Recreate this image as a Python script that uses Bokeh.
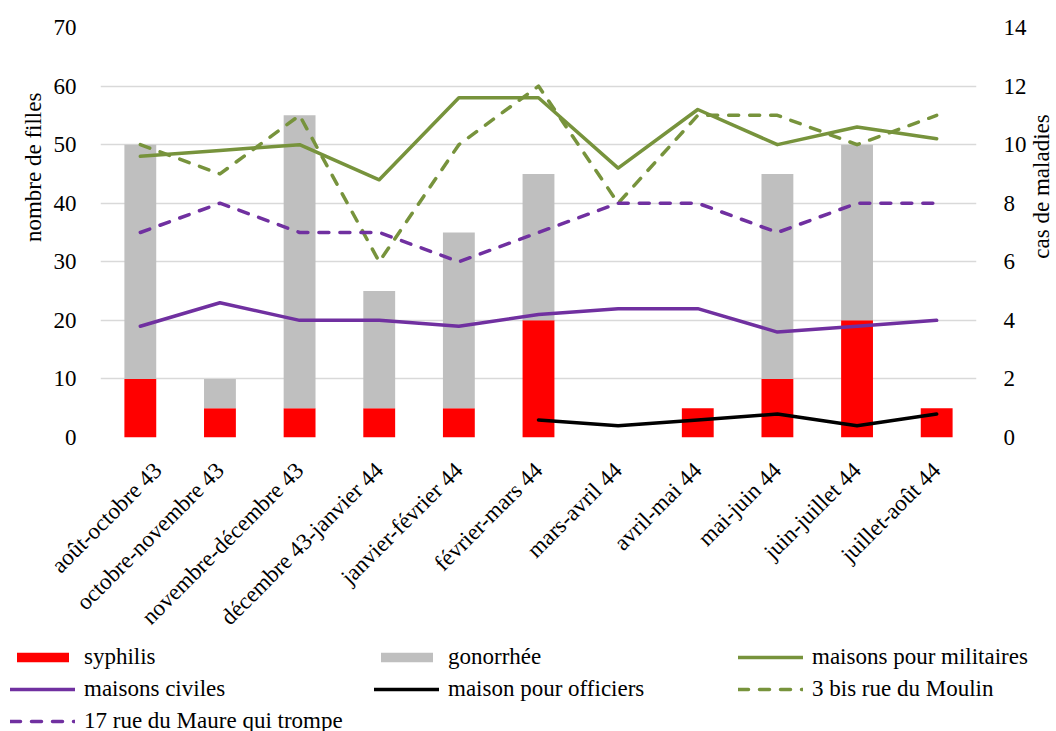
import math
from bokeh.plotting import figure
from bokeh.layouts import row, column
from bokeh.models import (ColumnDataSource, FactorRange, Range1d, LinearAxis, Legend,
                          LegendItem, SingleIntervalTicker, Label)
from bokeh.embed import file_html
from bokeh.resources import INLINE

NAN = float("nan")

categories = ["août-octobre 43", "octobre-novembre 43", "novembre-décembre 43",
              "décembre 43-janvier 44", "janvier-février 44", "février-mars 44",
              "mars-avril 44", "avril-mai 44", "mai-juin 44", "juin-juillet 44",
              "juillet-août 44"]

# cas de maladies (right axis)
syphilis = [2, 1, 1, 1, 1, 4, 0, 1, 2, 4, 1]
gonorrhee = [8, 1, 10, 4, 6, 5, 0, 0, 7, 6, 0]
rue_du_moulin = [10, 9, 11, 6, 10, 12, 8, 11, 11, 10, 11]
rue_du_maure = [7, 8, 7, 7, 6, 7, 8, 8, 7, 8, 8]

# nombre de filles (left axis)
maisons_militaires = [48, 49, 50, 44, 58, 58, 46, 56, 50, 53, 51]
maisons_civiles = [19, 23, 20, 20, 19, 21, 22, 22, 18, 19, 20]
maison_officiers = [NAN, NAN, NAN, NAN, NAN, 3, 2, 3, 4, 2, 4]

left_ticks = [0, 10, 20, 30, 40, 50, 60, 70]
right_ticks = [0, 2, 4, 6, 8, 10, 12, 14]

FONT = "Liberation Serif"
FS = "23px"
RED = "#FF0000"
GRAY = "#BFBFBF"
GREEN = "#77933C"
PURPLE = "#7030A0"
BLACK = "#000000"
GRID = "#D9D9D9"
DASH = "10 11"

src = ColumnDataSource(dict(cat=categories, syphilis=syphilis, gonorrhee=gonorrhee,
                            mil=maisons_militaires, civ=maisons_civiles,
                            off=maison_officiers, moulin=rue_du_moulin,
                            maure=rue_du_maure))


def blank_fig(w, h):
    f = figure(width=w, height=h, x_range=Range1d(0, w), y_range=Range1d(0, h),
               min_border=0, x_axis_location=None, y_axis_location=None,
               output_backend="svg", toolbar_location=None)
    f.outline_line_color = None
    f.background_fill_color = "white"
    f.border_fill_color = "white"
    for g in f.grid:
        g.visible = False
    return f


TOP_H = 639
LW, RW = 46, 32
FW, FH = 876, 410

p = figure(x_range=FactorRange(factors=categories),
           y_range=Range1d(left_ticks[0], left_ticks[-1]),
           frame_width=FW, frame_height=FH,
           min_border_left=100 - LW, min_border_right=48, min_border_top=27,
           min_border_bottom=TOP_H - 27 - FH,
           output_backend="svg", toolbar_location=None)
p.extra_y_ranges = {"cas": Range1d(right_ticks[0], right_ticks[-1])}
p.outline_line_color = None
p.background_fill_color = "white"
p.border_fill_color = "white"

lt = SingleIntervalTicker(interval=10)
p.yaxis.ticker = lt
p.ygrid.ticker = lt
p.ygrid.grid_line_color = GRID
p.ygrid.grid_line_width = 1.3
p.xgrid.grid_line_color = None

rax = LinearAxis(y_range_name="cas", ticker=SingleIntervalTicker(interval=2))
p.add_layout(rax, "right")

for ax in [p.yaxis[0], p.xaxis[0], rax]:
    ax.axis_line_color = None
    ax.major_tick_line_color = None
    ax.minor_tick_line_color = None
    ax.major_label_text_font = FONT
    ax.major_label_text_font_size = FS
    ax.major_label_text_color = BLACK
p.yaxis.major_label_standoff = 18
p.xaxis.major_label_orientation = math.pi / 4
p.xaxis.major_label_standoff = 23
rax.major_label_standoff = 21

# bars (cas de maladies)
bars = p.vbar_stack(["syphilis", "gonorrhee"], x="cat", width=0.4,
                    fill_color=[RED, GRAY], line_color=None, source=src,
                    y_range_name="cas")

# lines
common = dict(line_width=3.5, line_cap="round", line_join="round")
p.line("cat", "mil", source=src, line_color=GREEN, **common)
p.line("cat", "civ", source=src, line_color=PURPLE, **common)
p.line("cat", "off", source=src, line_color=BLACK, **common)
p.line("cat", "moulin", source=src, line_color=GREEN, y_range_name="cas",
       line_dash=DASH, **common)
p.line("cat", "maure", source=src, line_color=PURPLE, y_range_name="cas",
       line_dash=DASH, **common)

# axis titles in narrow side figures
lf = blank_fig(LW, TOP_H)
lf.add_layout(Label(x=33, y=TOP_H - 219, text="nombre de filles", angle=math.pi / 2,
                    text_align="center", text_baseline="middle",
                    text_font=FONT, text_font_size=FS, text_color=BLACK))
rf = blank_fig(RW, TOP_H)
rf.add_layout(Label(x=12, y=TOP_H - 249, text="cas de maladies", angle=math.pi / 2,
                    text_align="center", text_baseline="middle",
                    text_font=FONT, text_font_size=FS, text_color=BLACK))

# legend figure (placeholder renderers hold one point outside the visible range)
LEG_H = 731 - TOP_H
gf = blank_fig(1056, LEG_H)
hidden = ColumnDataSource(dict(x=[-500], y=[-500]))
g_syph = gf.vbar(x="x", top="y", width=1, source=hidden, fill_color=RED, line_color=None)
g_gono = gf.vbar(x="x", top="y", width=1, source=hidden, fill_color=GRAY, line_color=None)
g_mil = gf.line("x", "y", source=hidden, line_color=GREEN, **common)
g_civ = gf.line("x", "y", source=hidden, line_color=PURPLE, **common)
g_off = gf.line("x", "y", source=hidden, line_color=BLACK, **common)
g_mou = gf.line("x", "y", source=hidden, line_color=GREEN, line_dash=DASH, **common)
g_mau = gf.line("x", "y", source=hidden, line_color=PURPLE, line_dash=DASH, **common)

legend = Legend(items=[
    LegendItem(label="syphilis", renderers=[g_syph]),
    LegendItem(label="gonorrhée", renderers=[g_gono]),
    LegendItem(label="maisons pour militaires", renderers=[g_mil]),
    LegendItem(label="maisons civiles", renderers=[g_civ]),
    LegendItem(label="maison pour officiers", renderers=[g_off]),
    LegendItem(label="3 bis rue du Moulin", renderers=[g_mou]),
    LegendItem(label="17 rue du Maure qui trompe", renderers=[g_mau]),
], ncols=3, orientation="horizontal", location=(10, -4),
    glyph_width=65, glyph_height=12, label_standoff=9, label_width=290,
    label_height=32, spacing=0, padding=0, margin=0,
    label_text_font=FONT, label_text_font_size=FS, label_text_color=BLACK,
    border_line_color=None, background_fill_alpha=0)
gf.add_layout(legend)

layout = column(row(lf, p, rf), gf)

open("out.html", "w").write(file_html(layout, INLINE))
